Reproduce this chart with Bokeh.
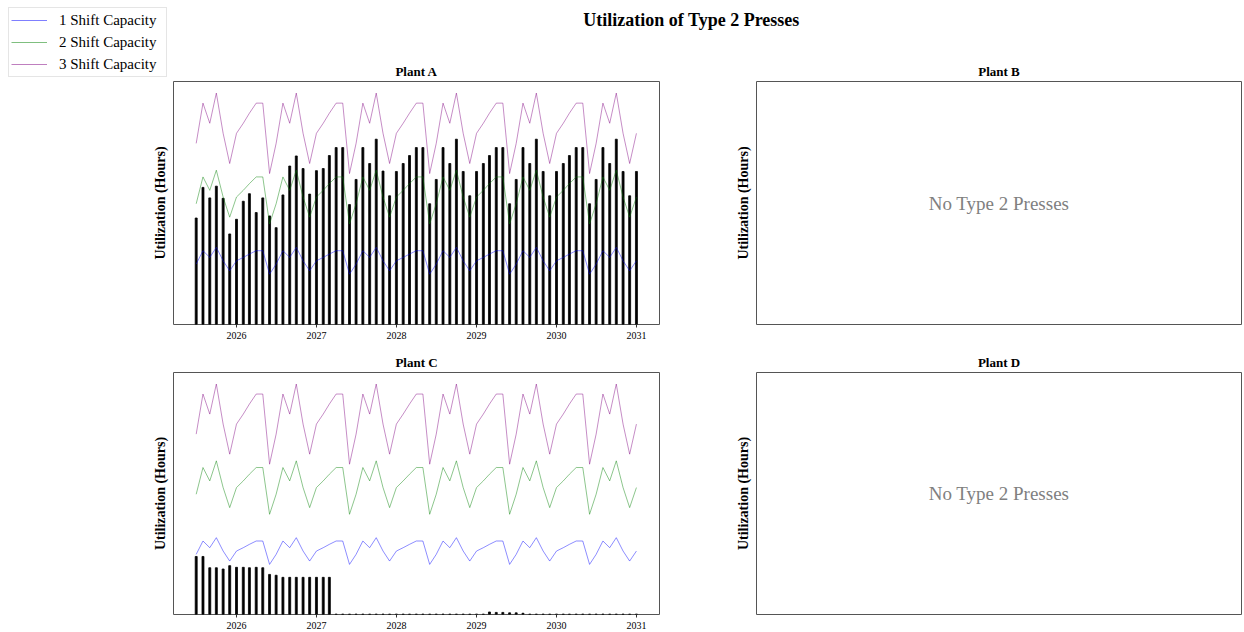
import pandas as pd
from bokeh.plotting import figure
from bokeh.models import (Range1d, FixedTicker, DatetimeTickFormatter, Label,
                          Legend, LegendItem, ColumnDataSource)
from bokeh.layouts import column, row
from bokeh.embed import file_html
from bokeh.resources import INLINE

# ---------------- data ----------------
months = [
    "2025-07", "2025-08", "2025-09", "2025-10", "2025-11", "2025-12",
    "2026-01", "2026-02", "2026-03", "2026-04", "2026-05", "2026-06",
    "2026-07", "2026-08", "2026-09", "2026-10", "2026-11", "2026-12",
    "2027-01", "2027-02", "2027-03", "2027-04", "2027-05", "2027-06",
    "2027-07", "2027-08", "2027-09", "2027-10", "2027-11", "2027-12",
    "2028-01", "2028-02", "2028-03", "2028-04", "2028-05", "2028-06",
    "2028-07", "2028-08", "2028-09", "2028-10", "2028-11", "2028-12",
    "2029-01", "2029-02", "2029-03", "2029-04", "2029-05", "2029-06",
    "2029-07", "2029-08", "2029-09", "2029-10", "2029-11", "2029-12",
    "2030-01", "2030-02", "2030-03", "2030-04", "2030-05", "2030-06",
    "2030-07", "2030-08", "2030-09", "2030-10", "2030-11", "2030-12",
    "2031-01",
]

shift1_capacity = [
    144, 176, 160, 184, 152, 128,
    152, 160, 168, 176, 176, 120, 144, 176, 160, 184, 152, 128,
    152, 160, 168, 176, 176, 120, 144, 176, 160, 184, 152, 128,
    152, 160, 168, 176, 176, 120, 144, 176, 160, 184, 152, 128,
    152, 160, 168, 176, 176, 120, 144, 176, 160, 184, 152, 128,
    152, 160, 168, 176, 176, 120, 144, 176, 160, 184, 152, 128,
    152,
]
shift2_capacity = [
    288, 352, 320, 368, 304, 256,
    304, 320, 336, 352, 352, 240, 288, 352, 320, 368, 304, 256,
    304, 320, 336, 352, 352, 240, 288, 352, 320, 368, 304, 256,
    304, 320, 336, 352, 352, 240, 288, 352, 320, 368, 304, 256,
    304, 320, 336, 352, 352, 240, 288, 352, 320, 368, 304, 256,
    304, 320, 336, 352, 352, 240, 288, 352, 320, 368, 304, 256,
    304,
]
shift3_capacity = [
    432, 528, 480, 552, 456, 384,
    456, 480, 504, 528, 528, 360, 432, 528, 480, 552, 456, 384,
    456, 480, 504, 528, 528, 360, 432, 528, 480, 552, 456, 384,
    456, 480, 504, 528, 528, 360, 432, 528, 480, 552, 456, 384,
    456, 480, 504, 528, 528, 360, 432, 528, 480, 552, 456, 384,
    456, 480, 504, 528, 528, 360, 432, 528, 480, 552, 456, 384,
    456,
]

plant_a_util = [
    254, 327, 302, 330, 301, 216,
    251, 294, 312, 267, 302, 259, 231, 309, 378, 402, 372, 311,
    367, 372, 403, 422, 422, 286, 346, 422, 384, 442, 366, 307,
    365, 384, 403, 422, 422, 288, 346, 422, 384, 442, 365, 307,
    365, 384, 403, 422, 422, 288, 346, 422, 384, 442, 365, 307,
    365, 384, 403, 422, 422, 288, 346, 422, 384, 442, 365, 307,
    365,
]
plant_c_util = [
    139, 139, 112, 112, 109, 117,
    113, 113, 112, 113, 112, 96, 94, 89, 89, 89, 89, 89,
    89, 89, 89, 1, 1, 1, 1, 1, 1, 1, 1, 1,
    1, 1, 1, 1, 1, 1, 1, 1, 1, 1, 1, 1,
    1, 1, 6, 5, 5, 4, 4, 3, 1, 1, 1, 1,
    1, 1, 1, 1, 1, 1, 1, 1, 1, 1, 1, 1,
    1,
]

plants = ["Plant A", "Plant B", "Plant C", "Plant D"]
tick_years = ["2026", "2027", "2028", "2029", "2030", "2031"]
series_labels = ["1 Shift Capacity", "2 Shift Capacity", "3 Shift Capacity"]
series_colors = ["blue", "green", "purple"]
empty_text = "No Type 2 Presses"
suptitle = "Utilization of Type 2 Presses"

# ---------------- helpers ----------------
FONT = "Liberation Serif"
W = 1244
LINE_ALPHA = 0.45
LINE_W = 1.0
dates = pd.to_datetime(months)
epoch = pd.Timestamp("1970-01-01")
def ms(ts):
    return (ts - epoch) / pd.Timedelta(milliseconds=1)

x_ms = [ms(d) for d in dates]
ref = pd.Timestamp("2026-01-01")
x_start = ms(ref - pd.Timedelta(days=287.6))
x_end = ms(ref + pd.Timedelta(days=1931.3))
ymax = max(shift3_capacity) * 1.05
tick_ms = [ms(pd.Timestamp(y + "-01-01")) for y in tick_years]
bar_w = 9 * 24 * 3600 * 1000


def strip(h):
    p = figure(width=W, height=h, x_range=Range1d(0, W), y_range=Range1d(h, 0),
               toolbar_location=None, output_backend="svg", min_border=0,
               x_axis_location=None, y_axis_location=None, title=None,
               outline_line_color=None)
    p.xgrid.visible = False
    p.ygrid.visible = False
    return p


def panel(width, height, left, right, top, bottom, has_data):
    kw = dict(width=width, height=height, toolbar_location=None,
              output_backend="svg", title=None,
              min_border_left=left, min_border_right=right,
              min_border_top=top, min_border_bottom=bottom)
    if has_data:
        p = figure(x_axis_type="datetime", x_range=Range1d(x_start, x_end),
                   y_range=Range1d(0, ymax), **kw)
    else:
        p = figure(x_range=Range1d(0, 1), y_range=Range1d(0, 1),
                   x_axis_location=None, **kw)
    p.xgrid.visible = False
    p.ygrid.visible = False
    p.outline_line_color = "#555555"
    p.outline_line_width = 1
    ya = p.yaxis[0]
    ya.axis_label = "Utilization (Hours)"
    ya.axis_label_text_font = FONT
    ya.axis_label_text_font_style = "bold"
    ya.axis_label_text_font_size = "14px"
    ya.axis_label_text_color = "black"
    ya.axis_label_standoff = 6
    ya.ticker = FixedTicker(ticks=[])
    ya.major_label_text_font_size = "0px"
    ya.major_label_standoff = 0
    ya.major_tick_line_color = None
    ya.minor_tick_line_color = None
    ya.axis_line_color = None
    if has_data:
        xa = p.xaxis[0]
        xa.ticker = FixedTicker(ticks=tick_ms)
        xa.formatter = DatetimeTickFormatter(years="%Y", months="%Y", days="%Y",
                                             hours="%Y", minutes="%Y", seconds="%Y")
        xa.major_label_text_font = FONT
        xa.major_label_text_font_size = "10px"
        xa.major_label_text_color = "black"
        xa.major_label_standoff = 4
        xa.major_tick_in = 0
        xa.major_tick_out = 3
        xa.major_tick_line_color = "#333333"
        xa.minor_tick_line_color = None
        xa.axis_line_color = None
    return p


def fill(p, util):
    src = ColumnDataSource(dict(x=x_ms, util=util, s1=shift1_capacity,
                                s2=shift2_capacity, s3=shift3_capacity))
    p.vbar(x="x", top="util", bottom=0, width=bar_w, source=src,
           fill_color="black", line_color="black", line_width=0.8)
    for col, c in zip(["s1", "s2", "s3"], series_colors):
        p.line(x="x", y=col, source=src, line_color=c, line_alpha=LINE_ALPHA,
               line_width=LINE_W)


def no_data(p):
    p.add_layout(Label(x=0.5, y=0.5, text=empty_text, text_align="center",
                       text_baseline="middle", text_font=FONT,
                       text_font_size="19px", text_color="#808080"))

# ---------------- top strip: suptitle, legend, row-1 titles ----------------
top = strip(78)
top.add_layout(Label(x=691, y=19, text=suptitle, text_align="center",
                     text_baseline="middle", text_font=FONT,
                     text_font_style="bold", text_font_size="18px",
                     text_color="black"))
for name, xc in zip(plants[:2], [416, 998.5]):
    top.add_layout(Label(x=xc, y=71, text=name, text_align="center",
                         text_baseline="middle", text_font=FONT,
                         text_font_style="bold", text_font_size="13px",
                         text_color="black"))
items = []
for lab, c in zip(series_labels, series_colors):
    # legend handles only: placed outside the visible range of the strip
    r = top.line(x=[-50, -40], y=[-50, -50], line_color=c,
                 line_alpha=0.5, line_width=1.2)
    items.append(LegendItem(label=lab, renderers=[r]))
leg = Legend(items=items, location=(8, 1), margin=0, padding=2,
             spacing=2, label_height=20, glyph_height=20, glyph_width=36,
             label_width=105,
             label_standoff=12, label_text_font=FONT, label_text_font_size="15px",
             label_text_color="black",
             border_line_color="#cccccc", border_line_width=1,
             background_fill_color="white", background_fill_alpha=0.8)
top.add_layout(leg)

# ---------------- row 1 ----------------
pa = panel(708, 274, 173, 49, 3, 28, True)
fill(pa, plant_a_util)
pb = panel(536, 274, 48, 3, 3, 28, False)
no_data(pb)

# ---------------- strip 2: row-2 titles ----------------
mid = strip(18)
for name, xc in zip(plants[2:], [416, 998.5]):
    mid.add_layout(Label(x=xc, y=10, text=name, text_align="center",
                         text_baseline="middle", text_font=FONT,
                         text_font_style="bold", text_font_size="13px",
                         text_color="black"))

# ---------------- row 2 ----------------
pc = panel(708, 262, 173, 49, 2, 18, True)
fill(pc, plant_c_util)
pd_ = panel(536, 262, 48, 3, 2, 18, False)
no_data(pd_)

layout = column(top, row(pa, pb), mid, row(pc, pd_))
open("out.html", "w").write(file_html(layout, INLINE))
